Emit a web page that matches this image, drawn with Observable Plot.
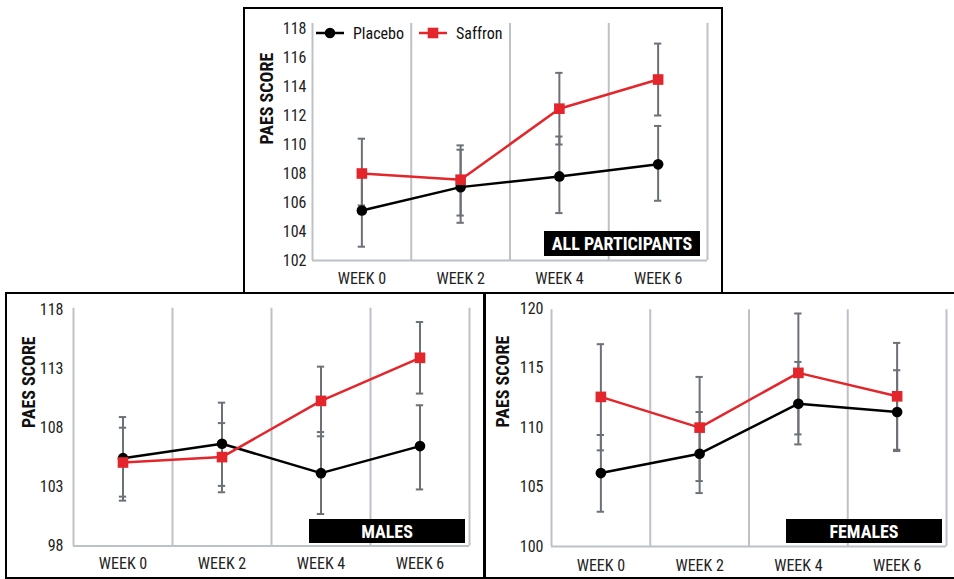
<!DOCTYPE html>
<html>
<head>
<meta charset="utf-8">
<script src="https://cdn.jsdelivr.net/npm/d3@7"></script>
<script src="https://cdn.jsdelivr.net/npm/@observablehq/plot@0.6"></script>
<style>
  html, body { margin: 0; padding: 0; background: #fff; }
  #page { position: relative; width: 954px; height: 579px; overflow: hidden; background: #fff;
          font-family: Roboto, "Liberation Sans", sans-serif; font-stretch: 75%; }
  #page svg, #page svg text { font-stretch: 75%; }
  .box { position: absolute; box-sizing: border-box; border: 2px solid #000; pointer-events: none; }
  .chart { position: absolute; }
  .tag { position: absolute; background: #000; color: #fff; font-weight: bold; font-size: 18px; white-space: nowrap;
         display: flex; align-items: center; justify-content: center; box-sizing: border-box; }
  .legend { position: absolute; display: flex; align-items: center; font-size: 16px; color: #111; white-space: nowrap; }
</style>
</head>
<body>
<div id="page"></div>
<script>
// ---- data ----
const weeks = ["WEEK 0", "WEEK 2", "WEEK 4", "WEEK 6"];
const seriesNames = ["Placebo", "Saffron"];

// All participants
const allPlacebo   = [105.45, 107.06, 107.8, 108.63];
const allPlaceboHi = [107.9, 109.64, 110.55, 111.28];
const allPlaceboLo = [102.95, 104.6, 105.27, 106.12];
const allSaffron   = [108.0, 107.57, 112.47, 114.48];
const allSaffronHi = [110.4, 109.94, 114.94, 116.96];
const allSaffronLo = [105.8, 105.1, 110.0, 112.0];
const allTicks = [102, 104, 106, 108, 110, 112, 114, 116, 118];

// Males
const malePlacebo   = [105.45, 106.67, 104.18, 106.47];
const malePlaceboHi = [108.93, 110.15, 107.66, 109.93];
const malePlaceboLo = [101.85, 103.1, 100.72, 102.8];
const maleSaffron   = [105.08, 105.54, 110.3, 113.95];
const maleSaffronHi = [108.03, 108.42, 113.2, 116.98];
const maleSaffronLo = [102.19, 102.56, 107.3, 110.92];
const maleTicks = [98, 103, 108, 113, 118];

// Females
const femPlacebo   = [106.17, 107.8, 112.0, 111.3];
const femPlaceboHi = [109.37, 111.3, 115.51, 114.81];
const femPlaceboLo = [102.92, 104.49, 108.58, 108.02];
const femSaffron   = [112.57, 109.99, 114.59, 112.62];
const femSaffronHi = [117.0, 114.25, 119.58, 117.11];
const femSaffronLo = [108.08, 105.5, 109.42, 108.13];
const femTicks = [100, 105, 110, 115, 120];

const panelTitles = ["ALL PARTICIPANTS", "MALES", "FEMALES"];
const yLabel = "PAES SCORE";

// ---- styles ----
const RED = "#e3262b", BLACK = "#000", ERR = "#6c7177", GRID = "#bcc2c7";
const FONT = 'Roboto, "Liberation Sans", sans-serif';

function rows(mean, hi, lo) {
  return weeks.map((w, i) => ({i, week: w, mean: mean[i], hi: hi[i], lo: lo[i]}));
}

function panel(cfg) {
  const P = rows(cfg.placebo, cfg.placeboHi, cfg.placeboLo);
  const S = rows(cfg.saffron, cfg.saffronHi, cfg.saffronLo);
  const ymin = cfg.ticks[0], ymax = cfg.ticks[cfg.ticks.length - 1];
  const cap = 0.037;
  const bounds = d3.range(weeks.length + 1).map(k => k - 0.5);
  const err = (data) => [
    Plot.ruleX(data, {x: "i", y1: "lo", y2: "hi", stroke: ERR, strokeWidth: 2}),
    Plot.ruleY(data, {y: "hi", x1: d => d.i - cap, x2: d => d.i + cap, stroke: ERR, strokeWidth: 2}),
    Plot.ruleY(data, {y: "lo", x1: d => d.i - cap, x2: d => d.i + cap, stroke: ERR, strokeWidth: 2})
  ];
  return Plot.plot({
    width: cfg.width, height: cfg.height,
    marginLeft: cfg.ml, marginRight: cfg.mr, marginTop: cfg.mt, marginBottom: cfg.mb,
    style: {fontFamily: FONT, fontSize: "16px", fontStretch: "75%", color: "#222", background: "transparent"},
    x: {domain: [-0.5, weeks.length - 0.5], axis: null},
    y: {domain: [ymin, ymax], axis: null},
    marks: [
      Plot.ruleX(bounds, {y1: ymin, y2: cfg.gridTop, stroke: GRID, strokeWidth: 2}),
      Plot.ruleY([ymin], {x1: -0.5, x2: weeks.length - 0.5, stroke: GRID, strokeWidth: 2}),
      Plot.axisY({ticks: cfg.ticks, tickSize: 0, tickPadding: cfg.yPad, fontSize: 16, tickFormat: d => String(d), label: null}),
      Plot.axisX({ticks: d3.range(weeks.length), tickSize: 0, tickPadding: cfg.xPad, fontSize: 16, tickFormat: i => weeks[i], label: null}),
      Plot.text([yLabel], {frameAnchor: "left", rotate: -90, dx: cfg.labelDx, fontWeight: "bold", fontSize: 18, fill: "#111"}),
      ...err(P), ...err(S),
      Plot.line(P, {x: "i", y: "mean", stroke: BLACK, strokeWidth: 2.5}),
      Plot.line(S, {x: "i", y: "mean", stroke: RED, strokeWidth: 2.5}),
      Plot.dot(P, {x: "i", y: "mean", r: 5.3, fill: BLACK, stroke: null}),
      Plot.dot(S, {x: "i", y: "mean", r: 6, symbol: "square", fill: RED, stroke: null})
    ]
  });
}

const page = document.getElementById("page");
function place(el, left, top) {
  el.classList.add("chart");
  el.style.left = left + "px"; el.style.top = top + "px";
  page.appendChild(el);
}

// bottom-left: males
place(panel({width: 480, height: 287, ml: 68, mr: 16, mt: 17.5, mb: 33.4, ticks: maleTicks, gridTop: 118.15,
  yPad: 10, xPad: 12, labelDx: -44,
  placebo: malePlacebo, placeboHi: malePlaceboHi, placeboLo: malePlaceboLo,
  saffron: maleSaffron, saffronHi: maleSaffronHi, saffronLo: maleSaffronLo}), 5, 292);
// bottom-right: females
place(panel({width: 470, height: 287, ml: 67, mr: 8, mt: 16, mb: 33, ticks: femTicks, gridTop: 119.9,
  yPad: 8, xPad: 13, labelDx: -48.5,
  placebo: femPlacebo, placeboHi: femPlaceboHi, placeboLo: femPlaceboLo,
  saffron: femSaffron, saffronHi: femSaffronHi, saffronLo: femSaffronLo}), 484, 292);

function box(left, top, w, h) {
  const b = document.createElement("div");
  b.className = "box";
  Object.assign(b.style, {left: left + "px", top: top + "px", width: w + "px", height: h + "px"});
  page.appendChild(b);
  return b;
}
box(5, 292, 480, 287);
box(484, 292, 480, 287);

// top panel (white background to sit above)
const topBg = document.createElement("div");
Object.assign(topBg.style, {position: "absolute", left: "243px", top: "7px", width: "480px", height: "287px", background: "#fff"});
page.appendChild(topBg);
place(panel({width: 480, height: 287, ml: 69, mr: 16, mt: 21, mb: 34, ticks: allTicks, gridTop: 118.35,
  yPad: 6, xPad: 12, labelDx: -45.5,
  placebo: allPlacebo, placeboHi: allPlaceboHi, placeboLo: allPlaceboLo,
  saffron: allSaffron, saffronHi: allSaffronHi, saffronLo: allSaffronLo}), 243, 7);
box(243, 7, 480, 287);

// tags
function tag(text, left, top, w, h) {
  const t = document.createElement("div");
  t.className = "tag"; t.textContent = text;
  Object.assign(t.style, {left: left + "px", top: top + "px", width: w + "px", height: h + "px"});
  page.appendChild(t);
}
tag(panelTitles[0], 544, 231, 156, 25);
tag(panelTitles[1], 309, 519, 156, 24);
tag(panelTitles[2], 786, 519, 156, 24);

// legend
const lg = document.createElement("div");
lg.className = "legend";
Object.assign(lg.style, {left: "316px", top: "23px", height: "20px"});
const sw = (color, square) => {
  const s = document.createElementNS("http://www.w3.org/2000/svg", "svg");
  s.setAttribute("width", 28); s.setAttribute("height", 20);
  s.style.marginRight = "9px";
  s.innerHTML = `<line x1="0" x2="28" y1="10" y2="10" stroke="${color}" stroke-width="2.5"/>` +
    (square ? `<rect x="8.7" y="4.7" width="10.6" height="10.6" fill="${color}"/>` : `<circle cx="14" cy="10" r="5.3" fill="${color}"/>`);
  return s;
};
lg.appendChild(sw(BLACK, false));
const t1 = document.createElement("span"); t1.textContent = seriesNames[0]; t1.style.marginRight = "15px"; lg.appendChild(t1);
lg.appendChild(sw(RED, true));
const t2 = document.createElement("span"); t2.textContent = seriesNames[1]; lg.appendChild(t2);
page.appendChild(lg);
</script>
</body>
</html>
